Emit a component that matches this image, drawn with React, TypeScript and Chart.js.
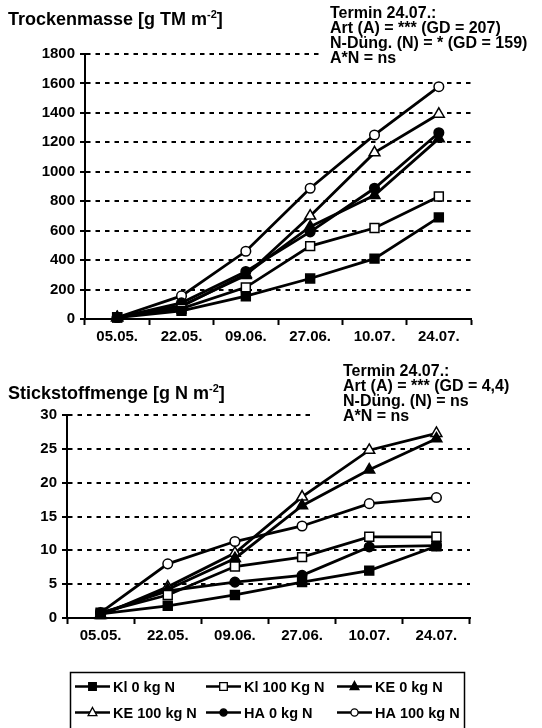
import React, { useEffect, useRef } from "react";
import { Chart, registerables } from "chart.js";

Chart.register(...registerables);

// Sampling dates (category axis)
const DATES = ["05.05.", "22.05.", "09.06.", "27.06.", "10.07.", "24.07."];

// Treatment labels, in legend order
const SERIES_LABELS = [
  "Kl 0 kg N",
  "Kl 100 Kg N",
  "KE 0 kg N",
  "KE 100 kg N",
  "HA 0 kg N",
  "HA 100 kg N",
];

// Dry matter [g TM m-2]
const tmKl0 = [10, 55, 155, 275, 410, 690];
const tmKl100 = [12, 70, 215, 495, 618, 832];
const tmKe0 = [10, 85, 305, 627, 840, 1225];
const tmKe100 = [10, 90, 296, 700, 1130, 1392];
const tmHa0 = [10, 110, 323, 592, 888, 1265];
const tmHa100 = [10, 157, 460, 888, 1250, 1578];

// Nitrogen amount [g N m-2]
const nKl0 = [0.6, 1.8, 3.4, 5.3, 7.0, 10.6];
const nKl100 = [0.8, 3.4, 7.6, 9.0, 12.0, 12.0];
const nKe0 = [0.5, 4.2, 8.8, 16.6, 21.9, 26.5];
const nKe100 = [0.4, 4.6, 9.6, 17.9, 24.8, 27.3];
const nHa0 = [0.7, 4.0, 5.3, 6.3, 10.5, 10.7];
const nHa100 = [0.8, 8.0, 11.3, 13.6, 16.9, 17.8];

// Y axis ticks
const TM_MAX = 1800;
const TM_STEP = 200;
const N_MAX = 30;
const N_STEP = 5;

// Statistics notes for the last sampling date
const TM_NOTES = [
  "Termin 24.07.:",
  "Art (A) = *** (GD = 207)",
  "N-Düng. (N) = * (GD = 159)",
  "A*N = ns",
];
const N_NOTES = [
  "Termin 24.07.:",
  "Art (A) = *** (GD = 4,4)",
  "N-Düng. (N) = ns",
  "A*N = ns",
];

const POINT_STYLES = ["rect", "rect", "triangle", "triangle", "circle", "circle"];
const POINT_RADII = [6.3, 6.3, 6.3, 6.3, 4.8, 4.8];
const FILLED = [true, false, true, false, true, false];

const FONT = '"Liberation Sans", Arial, Helvetica, sans-serif';
const W = 542;

type Geom = {
  height: number;
  yAxisWidth: number;
  padTop: number;
  padRight: number;
  padBottom: number;
  xAxisHeight: number;
};

function drawTitle(
  ctx: CanvasRenderingContext2D,
  x: number,
  y: number,
  main: string,
  sup: string,
  tail: string
) {
  ctx.save();
  ctx.fillStyle = "#000";
  ctx.textBaseline = "alphabetic";
  ctx.textAlign = "left";
  ctx.font = `bold 18px ${FONT}`;
  ctx.fillText(main, x, y);
  let cx = x + ctx.measureText(main).width;
  ctx.font = `bold 11px ${FONT}`;
  ctx.fillText(sup, cx, y - 7);
  cx += ctx.measureText(sup).width;
  ctx.font = `bold 18px ${FONT}`;
  ctx.fillText(tail, cx, y);
  ctx.restore();
}

function drawNotes(
  ctx: CanvasRenderingContext2D,
  lines: string[],
  x: number,
  y0: number,
  step: number,
  box: [number, number, number, number]
) {
  ctx.save();
  ctx.fillStyle = "#fff";
  ctx.fillRect(box[0], box[1], box[2], box[3]);
  ctx.fillStyle = "#000";
  ctx.font = `bold 16px ${FONT}`;
  ctx.textAlign = "left";
  ctx.textBaseline = "alphabetic";
  lines.forEach((t, i) => ctx.fillText(t, x, y0 + i * step));
  ctx.restore();
}

function drawMarker(
  ctx: CanvasRenderingContext2D,
  style: string,
  x: number,
  y: number,
  r: number,
  filled: boolean
) {
  ctx.beginPath();
  if (style === "rect") {
    ctx.rect(x - r, y - r, 2 * r, 2 * r);
  } else if (style === "circle") {
    ctx.arc(x, y, r, 0, Math.PI * 2);
  } else {
    ctx.moveTo(x, y - r * 1.15);
    ctx.lineTo(x + r, y + r * 0.7);
    ctx.lineTo(x - r, y + r * 0.7);
    ctx.closePath();
  }
  ctx.fillStyle = filled ? "#000" : "#fff";
  ctx.fill();
  ctx.lineWidth = 1.3;
  ctx.strokeStyle = "#000";
  ctx.stroke();
}

function drawLegend(ctx: CanvasRenderingContext2D, top: number) {
  ctx.save();
  ctx.strokeStyle = "#000";
  ctx.lineWidth = 1.5;
  ctx.strokeRect(70.5, top + 0.5, 394, 80);
  const cols = [75, 206, 337];
  const rows = [top + 14.5, top + 40.5];
  ctx.font = `bold 14.5px ${FONT}`;
  ctx.textBaseline = "middle";
  ctx.textAlign = "left";
  SERIES_LABELS.forEach((label, i) => {
    const x = cols[i % 3];
    const y = rows[Math.floor(i / 3)];
    ctx.beginPath();
    ctx.moveTo(x, y);
    ctx.lineTo(x + 35, y);
    ctx.lineWidth = 2.5;
    ctx.strokeStyle = "#000";
    ctx.stroke();
    const st = POINT_STYLES[i];
    drawMarker(ctx, st, x + 17.5, y, st === "rect" ? 3.8 : st === "circle" ? 3.6 : 4.4, FILLED[i]);
    ctx.fillStyle = "#000";
    ctx.fillText(label, x + 38, y + 1);
  });
  ctx.restore();
}

function buildConfig(
  series: number[][],
  yMax: number,
  yStep: number,
  geom: Geom,
  plugin: any
): any {
  const tickFont = { family: FONT, size: 15, weight: "bold" as const };
  return {
    type: "line",
    data: {
      labels: DATES,
      datasets: series.map((v, i) => ({
        label: SERIES_LABELS[i],
        data: v,
        borderColor: "#000",
        borderWidth: 2.8,
        pointStyle: POINT_STYLES[i],
        pointRadius: POINT_RADII[i],
        pointBorderWidth: 1.5,
        pointBorderColor: "#000",
        pointBackgroundColor: FILLED[i] ? "#000" : "#fff",
        tension: 0,
        clip: false,
      })),
    },
    options: {
      responsive: false,
      animation: false,
      events: [],
      layout: {
        padding: { top: geom.padTop, right: geom.padRight, bottom: geom.padBottom, left: 0 },
      },
      plugins: {
        legend: { display: false },
        tooltip: { enabled: false },
        title: { display: false },
      },
      scales: {
        x: {
          type: "category",
          offset: true,
          grid: {
            offset: true,
            drawOnChartArea: false,
            drawTicks: true,
            tickLength: 6,
            tickWidth: 2,
            color: "#000",
          },
          border: { display: true, color: "#000", width: 2 },
          ticks: {
            color: "#000",
            font: tickFont,
            padding: 3,
            maxRotation: 0,
            autoSkip: false,
          },
          afterFit: (s: any) => {
            s.height = geom.xAxisHeight;
          },
        },
        y: {
          min: 0,
          max: yMax,
          ticks: {
            stepSize: yStep,
            color: "#000",
            font: tickFont,
            padding: 5,
            callback: (v: any) => String(v),
          },
          grid: {
            color: "#000",
            lineWidth: 2,
            drawTicks: true,
            tickLength: 5,
            tickWidth: 2,
            tickColor: "#000",
          },
          border: { display: true, color: "#000", width: 2, dash: [4.5, 5] },
          afterFit: (s: any) => {
            s.width = geom.yAxisWidth;
          },
        },
      },
    },
    plugins: [plugin],
  };
}

function ChartCanvas({ make, height }: { make: () => any; height: number }) {
  const ref = useRef<HTMLCanvasElement | null>(null);
  useEffect(() => {
    if (!ref.current) return;
    const chart = new Chart(ref.current, make());
    return () => chart.destroy();
  }, []);
  return (
    <canvas
      ref={ref}
      width={W}
      height={height}
      style={{ display: "block", width: W, height }}
    />
  );
}

const TOP_GEOM: Geom = {
  height: 350,
  yAxisWidth: 85,
  padTop: 54,
  padRight: 71,
  padBottom: 0,
  xAxisHeight: 31,
};

const BOTTOM_GEOM: Geom = {
  height: 378,
  yAxisWidth: 67,
  padTop: 65,
  padRight: 72,
  padBottom: 79,
  xAxisHeight: 31,
};

function makeTop() {
  const plugin = {
    id: "tmDecor",
    beforeDatasetsDraw(chart: any) {
      drawNotes(chart.ctx, TM_NOTES, 330, 18, 15, [322, 0, 220, 67]);
    },
    afterDraw(chart: any) {
      drawTitle(chart.ctx, 8, 25, "Trockenmasse [g TM m", "-2", "]");
    },
  };
  return buildConfig(
    [tmKl0, tmKl100, tmKe0, tmKe100, tmHa0, tmHa100],
    TM_MAX,
    TM_STEP,
    TOP_GEOM,
    plugin
  );
}

function makeBottom() {
  const plugin = {
    id: "nDecor",
    beforeDatasetsDraw(chart: any) {
      drawNotes(chart.ctx, N_NOTES, 343, 26, 15, [313, 14, 229, 61]);
    },
    afterDraw(chart: any) {
      drawTitle(chart.ctx, 8, 49, "Stickstoffmenge [g N m", "-2", "]");
      drawLegend(chart.ctx, 322);
    },
  };
  return buildConfig(
    [nKl0, nKl100, nKe0, nKe100, nHa0, nHa100],
    N_MAX,
    N_STEP,
    BOTTOM_GEOM,
    plugin
  );
}

export default function App() {
  return (
    <div style={{ position: "absolute", left: 0, top: 0, width: W, height: 728, background: "#fff" }}>
      <ChartCanvas make={makeTop} height={TOP_GEOM.height} />
      <ChartCanvas make={makeBottom} height={BOTTOM_GEOM.height} />
    </div>
  );
}
